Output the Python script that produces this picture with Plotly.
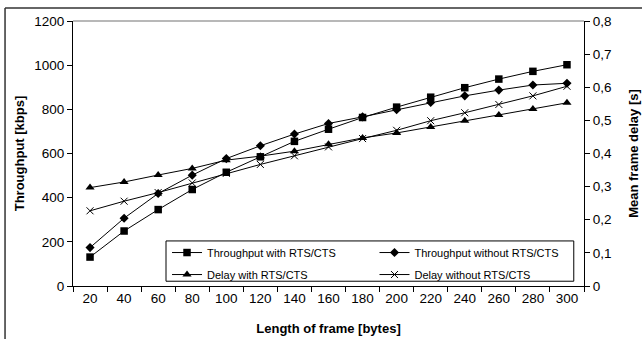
import plotly.graph_objects as go

frame_len = ["20", "40", "60", "80", "100", "120", "140", "160", "180", "200", "220", "240", "260", "280", "300"]
thr_rts = [131, 249, 346, 437, 515, 585, 655, 710, 763, 810, 855, 898, 937, 972, 1002]
thr_no_rts = [174, 307, 419, 502, 577, 635, 688, 736, 766, 798, 831, 861, 887, 910, 918]
delay_rts = [0.297, 0.314, 0.335, 0.355, 0.380, 0.392, 0.407, 0.428, 0.447, 0.462, 0.480, 0.499, 0.516, 0.534, 0.553]
delay_no_rts = [0.227, 0.256, 0.282, 0.311, 0.340, 0.367, 0.393, 0.420, 0.445, 0.470, 0.499, 0.523, 0.548, 0.574, 0.603]

y1_ticks = [0, 200, 400, 600, 800, 1000, 1200]
y2_ticks = [0, 0.1, 0.2, 0.3, 0.4, 0.5, 0.6, 0.7, 0.8]
y2_labels = ["0", "0,1", "0,2", "0,3", "0,4", "0,5", "0,6", "0,7", "0,8"]

FONT = "Liberation Sans, Arial, sans-serif"

fig = go.Figure()
line = dict(color="black", width=1)
fig.add_trace(go.Scatter(x=frame_len, y=thr_rts, name="Throughput with RTS/CTS", mode="lines+markers",
                         legend="legend", legendgroup="a",
                         line=line, marker=dict(symbol="square", size=7.5, color="black")))
fig.add_trace(go.Scatter(x=frame_len, y=thr_no_rts, name="Throughput without RTS/CTS", mode="lines+markers",
                         legend="legend2", legendgroup="b",
                         line=line, marker=dict(symbol="diamond", size=7, color="black")))
fig.add_trace(go.Scatter(x=frame_len, y=delay_rts, name="Delay with RTS/CTS", mode="lines+markers", yaxis="y2",
                         legend="legend", legendgroup="c",
                         line=line, marker=dict(symbol="triangle-up", size=8, color="black")))
fig.add_trace(go.Scatter(x=frame_len, y=delay_no_rts, name="Delay without RTS/CTS", mode="lines+markers", yaxis="y2",
                         legend="legend2", legendgroup="d",
                         line=line, marker=dict(symbol="x-thin-open", size=7, color="black",
                                                line=dict(color="black", width=1))))

axis_common = dict(showgrid=False, zeroline=False, showline=True, linecolor="black", linewidth=1,
                   ticks="outside", ticklen=5, tickcolor="black", automargin=False,
                   tickfont=dict(family=FONT, size=13.5, color="black"))

leg_common = dict(orientation="v", yanchor="top", xanchor="left", bgcolor="rgba(0,0,0,0)",
                  borderwidth=0, itemwidth=30, tracegroupgap=3,
                  font=dict(family=FONT, size=11, color="black"))

fig.update_layout(
    width=642, height=339,
    margin=dict(l=73, r=58, t=21, b=53, autoexpand=False),
    paper_bgcolor="white", plot_bgcolor="white",
    font=dict(family=FONT, color="black"),
    xaxis=dict(type="category", range=[-0.5, 14.5], tickson="boundaries",
               title=dict(text="<b>Length of frame [bytes]</b>", font=dict(family=FONT, size=13), standoff=18),
               **axis_common),
    yaxis=dict(range=[0, 1200], tickvals=y1_ticks,
               title=dict(text="<b>Throughput [kbps]</b>", font=dict(family=FONT, size=13), standoff=6),
               **axis_common),
    yaxis2=dict(range=[0, 0.8], tickvals=y2_ticks, ticktext=y2_labels, overlaying="y", side="right",
                title=dict(text="<b>Mean frame delay [s]</b>", font=dict(family=FONT, size=13), standoff=17),
                **axis_common),
    legend=dict(x=0.184, y=0.181, **leg_common),
    legend2=dict(x=0.590, y=0.181, **leg_common),
    showlegend=True,
    shapes=[
        dict(type="rect", xref="paper", yref="paper", x0=0.182, x1=0.980, y0=0.018, y1=0.170,
             line=dict(color="black", width=1), fillcolor="white", layer="below"),
        dict(type="line", xref="paper", yref="paper", x0=0, x1=1, y0=1, y1=1,
             line=dict(color="#a0a0a0", width=1.5)),
        dict(type="line", xref="paper", yref="paper", x0=-0.133, x1=1.2, y0=1.049, y1=1.049,
             line=dict(color="#333333", width=1.5)),
        dict(type="line", xref="paper", yref="paper", x0=-0.133, x1=-0.133, y0=-0.3, y1=1.049,
             line=dict(color="#333333", width=1.5)),
    ],
)

fig.write_html("out.html")
